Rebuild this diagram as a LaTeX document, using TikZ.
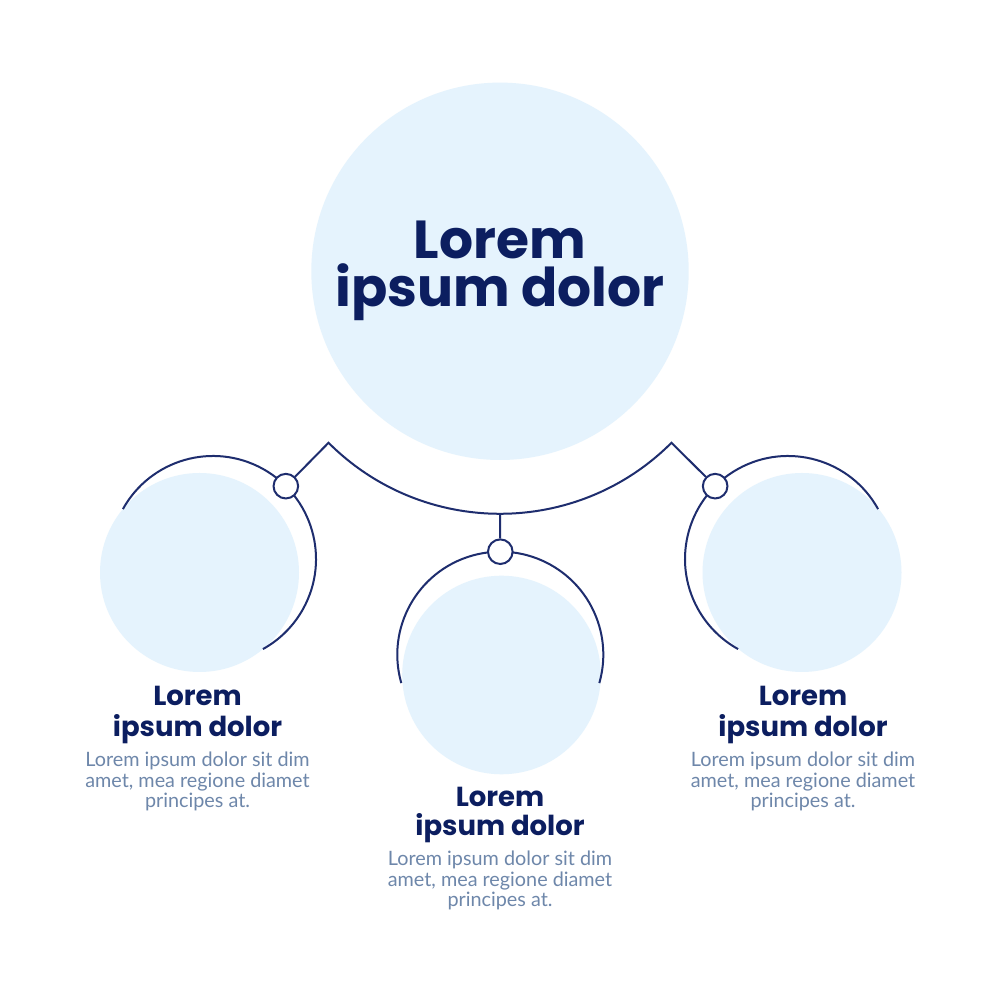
\documentclass[tikz,border=0pt]{standalone}
\usepackage{fontspec}
\setmainfont{Lato}
\newfontfamily\headfont{Poppins}
\usetikzlibrary{calc}
\definecolor{cfill}{HTML}{E5F3FD}
\definecolor{cline}{HTML}{1E2D6E}
\definecolor{chead}{HTML}{0C1E60}
\definecolor{cbody}{HTML}{6E87AA}
\begin{document}
\begin{tikzpicture}[x=1pt,y=1pt,
  fillcirc/.style={circle, fill=cfill, inner sep=0pt, outer sep=0pt},
  knob/.style={circle, draw=cline, fill=white, line width=2pt, minimum size=24.6pt, inner sep=0pt},
  link/.style={draw=cline, line width=2pt, line join=miter},
  bigtxt/.style={font=\headfont\bfseries\fontsize{53.5}{48.4}\selectfont, text=chead, align=center, inner sep=0pt},
  headtxt/.style={font=\headfont\bfseries\fontsize{27.5}{30}\selectfont, text=chead, anchor=base, inner sep=0pt},
  bodytxt/.style={font=\fontsize{19.8}{20}\selectfont, text=cbody, anchor=base, inner sep=0pt}]
\useasboundingbox (0,0) rectangle (1000,1000);
\fill[white] (0,0) rectangle (1000,1000);
% filled circles
\node[fillcirc, minimum size=377.4pt] (big) at (500,728.7) {};
\node[fillcirc, minimum size=199pt] (fl) at (199.5,427.5) {};
\node[fillcirc, minimum size=198.6pt] (fm) at (501.5,325) {};
\node[fillcirc, minimum size=199pt] (fr) at (802,427.5) {};
% outline arcs
\coordinate (ol) at (213,441);
\coordinate (om) at (500.3,345.3);
\coordinate (or) at (788,441);
\draw[link] ($(ol)+(151:103)$) arc[start angle=151, end angle=-61, radius=103];
\draw[link] ($(om)+(196:103)$) arc[start angle=196, end angle=-16, radius=103];
\draw[link] ($(or)+(29:103)$) arc[start angle=29, end angle=241, radius=103];
% knobs
\node[knob] (kl) at ($(ol)+(45:103)$) {};
\node[knob] (km) at ($(om)+(90:103)$) {};
\node[knob] (kr) at ($(or)+(135:103)$) {};
% connector
\coordinate (pl) at ($(big.center)+(-135:242.5)$);
\coordinate (pb) at ($(big.center)+(-90:242.5)$);
\draw[link] (kl) -- (pl) arc[start angle=-135, end angle=-45, radius=242.5] -- (kr);
\draw[link] (pb) -- (km);
% title
\node[bigtxt, anchor=base] (title) at (500,693.3) {Lorem\\ipsum dolor};
% left
\node[headtxt] (lh1) at (197.5,294) {Lorem};
\node[headtxt] (lh2) at (197.5,263.3) {ipsum dolor};
\node[bodytxt] (lb1) at (197.5,233) {Lorem ipsum dolor sit dim};
\node[bodytxt] (lb2) at (197.5,212.5) {amet, mea regione diamet};
\node[bodytxt] (lb3) at (197.5,192.2) {principes at.};
% middle
\node[headtxt] (mh1) at (500,193.3) {Lorem};
\node[headtxt] (mh2) at (500,164) {ipsum dolor};
\node[bodytxt] (mb1) at (500,134.3) {Lorem ipsum dolor sit dim};
\node[bodytxt] (mb2) at (500,113.8) {amet, mea regione diamet};
\node[bodytxt] (mb3) at (500,93.5) {principes at.};
% right
\node[headtxt] (rh1) at (803,294) {Lorem};
\node[headtxt] (rh2) at (803,263.3) {ipsum dolor};
\node[bodytxt] (rb1) at (803,233) {Lorem ipsum dolor sit dim};
\node[bodytxt] (rb2) at (803,212.5) {amet, mea regione diamet};
\node[bodytxt] (rb3) at (803,192.2) {principes at.};
\end{tikzpicture}
\end{document}
